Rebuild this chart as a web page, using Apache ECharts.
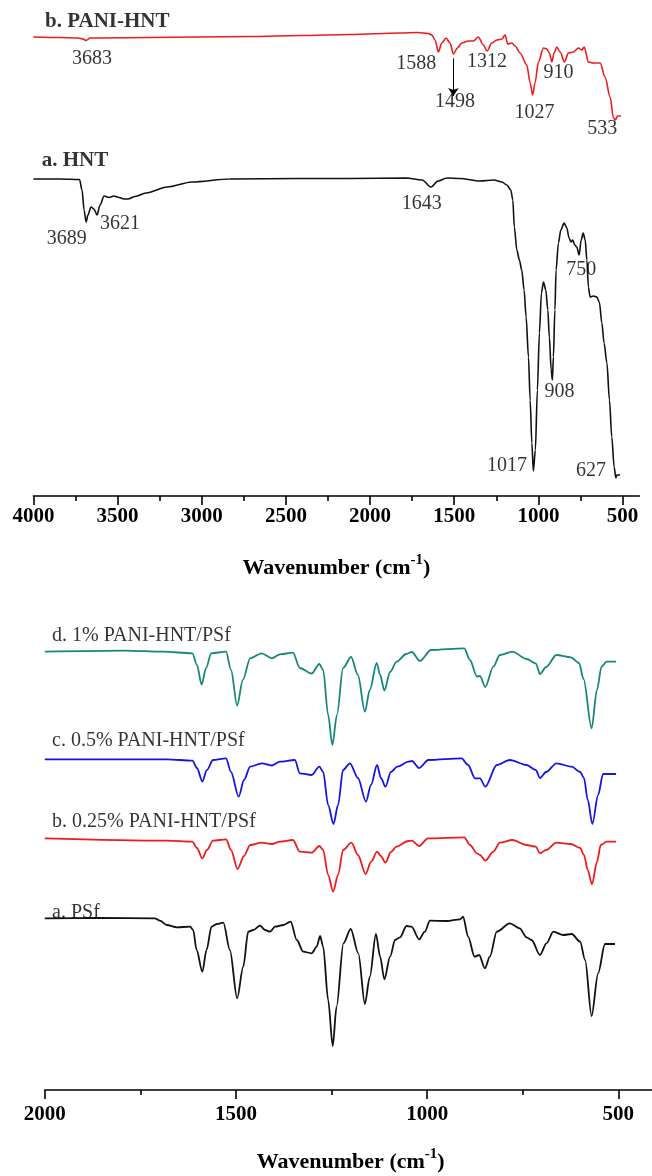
<!DOCTYPE html>
<html>
<head>
<meta charset="utf-8">
<script src="https://cdn.jsdelivr.net/npm/echarts@6/dist/echarts.min.js"></script>
<style>
  html, body { margin: 0; padding: 0; background: #fff; }
  #chart { width: 652px; height: 1176px; }
</style>
</head>
<body>
<div id="chart"></div>
<script>
/* FTIR spectra — top: HNT / PANI-HNT (4000-500), bottom: PSf membranes (2000-500)
   values are transmittance in arbitrary units, already offset per trace */

var SERIF = "'Liberation Serif', 'Times New Roman', serif";

// ---- top panel ------------------------------------------------------------
var paniHntSpectrum = [
  [4000,459],[3842,458.5],[3735,458],[3705,457],[3687,455.5],[3664,458],[3604,458],
  [3307,458.5],[3010,459],[2713,459.5],[2416,460.5],[2119,461.5],[1822,463],[1715,463.5],
  [1655,462.5],[1633,461],[1614,456],[1594,444],[1574,453],[1548,458],[1525,453],[1505,442],
  [1481,448],[1455,453],[1416,455],[1386,455],[1357,459],[1327,451],[1305,445],[1277,453],
  [1247,456],[1217,457],[1198,461],[1182,452],[1158,453],[1138,450],[1109,443],[1069,431],
  [1049,413],[1034,401],[1020,413],[1000,434],[970,448],[950,447],[935,443],[920,434],
  [907,443],[891,449],[871,444],[845,434],[822,443],[792,444],[762,448],[742,446],[728,449],
  [703,434],[673,433],[633,433],[604,419],[574,399],[554,378],[542,376],[531,380],[510,380]
];
var hntSpectrum = [
  [4000,317],[3842,317],[3726,316.5],[3711,306],[3699,286],[3687,274],[3676,281],[3658,289],
  [3640,287],[3622,281],[3604,291],[3580,300],[3551,298.5],[3521,300],[3491,298.5],[3462,297],
  [3438,297],[3396,299.5],[3331,303],[3206,309],[3058,314],[2832,317],[2416,317.5],
  [2119,317.5],[1786,318],[1691,316],[1638,309],[1596,315],[1543,318],[1466,317.5],[1347,315],
  [1264,316],[1216,314],[1188,311],[1164,306],[1152,296],[1143,269],[1128,246],[1113,236],
  [1099,226],[1085,206],[1073,179],[1059,139],[1049,96],[1039,53],[1030,25],[1018,46],
  [1006,106],[994,163],[982,203],[970,214],[956,206],[944,186],[935,159],[924,126],[917,116],
  [911,139],[902,186],[895,226],[881,253],[867,266],[847,273],[831,268],[818,258],[806,254],
  [796,256],[784,251],[772,249],[758,241],[746,256],[734,263],[722,256],[712,236],[703,209],
  [693,199],[673,200],[653,199],[638,194],[623,173],[610,153],[593,133],[578,96],[564,59],
  [550,29],[540,18],[534,21],[515,21]
];
// peak labels: [wavenumber, value, text]
var topPeakLabels = [
  [3652,437.7,'3683'],[1725,432,'1588'],[1495,394.3,'1498'],[1305,434.3,'1312'],
  [1023,383,'1027'],[881,423,'910'],[621,367.7,'533'],
  [3802,257.7,'3689'],[3485,272.7,'3621'],[1693,292.7,'1643'],[746,226,'750'],
  [874,104.5,'908'],[1186,30.5,'1017'],[687,25.5,'627']
];
var topTraceNames = [[3931,474,'b. PANI-HNT'],[3951,335,'a. HNT']];
var topArrow = [[1505,437.7],[1505,400]];   // 1498 pointer
var topMajorTicks = [500,1000,1500,2000,2500,3000,3500,4000];
var topMinorTicks = [750,1250,1750,2250,2750,3250,3750];

// ---- bottom panel ---------------------------------------------------------
var psfSpectrum = [
  [2000,171.7],[1856,172],[1712,171.7],[1699,169.3],[1681,165],[1655,162.7],[1620,163.3],
  [1612,160],[1603,140],[1588,118.3],[1577,140],[1564,163.3],[1550,166],[1533,167.3],
  [1516,140],[1497,91.7],[1481,123.3],[1468,158.3],[1455,160],[1437,164.3],[1424,160],
  [1411,158.3],[1398,163.3],[1376,165],[1357,168.3],[1341,150],[1324,138.3],[1302,136.7],
  [1289,143.3],[1280,154],[1272,143.3],[1259,90],[1247,44],[1237,83.3],[1219,146.7],
  [1200,161],[1180,136.7],[1163,86],[1150,113.3],[1134,156],[1123,133.3],[1112,110.7],
  [1097,133.3],[1084,150],[1071,152.7],[1054,164],[1041,163.3],[1021,150.7],[1006,158.3],
  [993,169.3],[949,169],[914,170.7],[906,173.3],[893,153.3],[876,133.3],[864,135],
  [849,121.7],[836,133.3],[818,158.3],[784,166.7],[758,161.7],[740,152.7],[727,150],
  [705,135],[688,146.7],[670,158.3],[644,155],[622,156],[600,148.3],[587,130],[570,74],
  [553,116.7],[535,146],[509,146]
];
var psf025Spectrum = [
  [2000,251.7],[1680,249.3],[1614,248.3],[1602,242],[1588,231.5],[1576,240],[1560,249.3],
  [1526,250.7],[1513,240],[1496,221],[1479,234],[1463,245],[1433,247.3],[1406,246],
  [1385,248.3],[1351,250],[1333,238.3],[1302,237.3],[1282,244],[1272,240],[1259,215],
  [1246,198.5],[1233,215],[1220,240],[1198,247.3],[1181,235],[1161,216],[1147,228],
  [1131,238.3],[1121,234],[1109,227.3],[1095,238],[1080,243.3],[1050,249],[1040,249.3],
  [1021,244],[998,251.7],[903,252.7],[888,245],[870,236.7],[862,235],[848,229.3],[827,238.3],
  [810,247.3],[777,250],[740,245],[716,243.3],[705,236.7],[689,240],[662,247.3],[624,246],
  [600,242],[590,235],[580,220],[569,205.7],[556,228],[546,245],[531,248.3],[506,248.3]
];
var psf05Spectrum = [
  [2000,330.7],[1680,330.7],[1614,329.3],[1602,322],[1588,308.5],[1576,320],[1560,330],
  [1526,331.7],[1513,318],[1493,293.3],[1479,310],[1463,323.3],[1433,326.7],[1406,324.5],
  [1385,328.3],[1346,330],[1333,316.7],[1302,315],[1282,323.3],[1272,318],[1259,285],
  [1245,266],[1233,285],[1220,320],[1202,326.7],[1181,312],[1160,288.3],[1147,305],
  [1131,325],[1121,312],[1109,303.3],[1095,318],[1078,323.3],[1049,328.3],[1040,329],
  [1021,322],[997,330],[910,331.7],[893,325],[875,311.7],[862,311.7],[848,303.3],[818,325],
  [784,330],[740,325],[716,320],[705,312],[689,318],[662,326.7],[622,323.3],[600,318],
  [590,312],[580,290],[568,266],[553,295],[540,316],[506,316]
];
var psf1Spectrum = [
  [2000,438.3],[1790,439.3],[1691,438.3],[1614,436.7],[1602,425],[1590,405.5],[1578,422],
  [1565,436.7],[1526,438.3],[1513,420],[1497,384.5],[1482,410],[1463,431.7],[1433,436.7],
  [1406,431.7],[1385,435.7],[1351,437.3],[1333,422],[1302,416.5],[1282,426],[1272,420],
  [1259,375],[1248,345],[1236,375],[1220,422],[1199,433],[1181,415],[1163,378.3],[1150,400],
  [1132,427],[1123,415],[1112,399.5],[1097,418],[1080,428.3],[1055,436],[1040,438],
  [1019,429],[990,440],[903,441.7],[888,430],[870,413.5],[862,414],[848,403],[827,423.3],
  [810,435],[777,438.3],[740,431],[716,426.7],[705,416],[689,423],[662,435],[624,432.7],
  [603,427],[591,411],[570,361.7],[556,400],[544,423.3],[531,428.3],[506,428.3]
];
var bottomTraceNames = [
  [1981,454.5,'d. 1% PANI-HNT/PSf'],[1981,349,'c. 0.5% PANI-HNT/PSf'],
  [1981,268,'b. 0.25% PANI-HNT/PSf'],[1981,177,'a. PSf']
];
var bottomMajorTicks = [500,1000,1500,2000];
var bottomMinorTicks = [750,1250,1750];

var COLORS = { red: '#ee1c1c', black: '#111111', teal: '#17877b', blue: '#1414e6' };

// ============================================================
//  helpers
// ============================================================
function toLabelData(list) {
  return list.map(function (d) { return { name: d[2], value: [d[0], d[1]] }; });
}

function majorAxis(gridIndex, min, max, ticks, labelMargin, nameGap) {
  return {
    type: 'value', gridIndex: gridIndex, position: 'bottom',
    min: min, max: max, inverse: true,
    axisLine: { show: true, onZero: false, lineStyle: { color: '#000', width: 1.6 } },
    axisTick: { show: true, customValues: ticks, length: 9, lineStyle: { color: '#000', width: 1.6 } },
    axisLabel: {
      show: true, customValues: ticks, margin: labelMargin,
      formatter: function (v) { return String(v); },
      fontFamily: SERIF, fontWeight: 'bold', fontSize: 21, color: '#000'
    },
    splitLine: { show: false },
    name: '{t|Wavenumber (cm}{s|-1}{t|)}',
    nameLocation: 'middle',
    nameGap: nameGap,
    nameMoveOverlap: false,
    nameTextStyle: {
      color: '#000',
      rich: {
        t: { fontFamily: SERIF, fontWeight: 'bold', fontSize: 22, lineHeight: 26, verticalAlign: 'bottom', color: '#000' },
        s: { fontFamily: SERIF, fontWeight: 'bold', fontSize: 15, lineHeight: 14, verticalAlign: 'top', color: '#000' }
      }
    }
  };
}

function minorAxis(gridIndex, min, max, ticks) {
  return {
    type: 'value', gridIndex: gridIndex, position: 'bottom',
    min: min, max: max, inverse: true,
    axisLine: { show: false, onZero: false },
    axisTick: { show: true, customValues: ticks, length: 5, lineStyle: { color: '#000', width: 1.6 } },
    axisLabel: { show: false },
    splitLine: { show: false }
  };
}

function spectrum(name, data, color, xIdx, yIdx, width) {
  return {
    name: name, type: 'line', xAxisIndex: xIdx, yAxisIndex: yIdx,
    data: data, showSymbol: false, symbol: 'none',
    smooth: 0.3, smoothMonotone: 'x',
    lineStyle: { color: color, width: width },
    silent: true
  };
}

function labelSeries(list, xIdx, yIdx, style) {
  return {
    type: 'scatter', xAxisIndex: xIdx, yAxisIndex: yIdx,
    data: toLabelData(list), symbolSize: 1,
    itemStyle: { color: 'rgba(0,0,0,0)' }, silent: true, z: 5,
    label: Object.assign({ show: true, position: 'inside', formatter: '{b}', color: '#000', fontFamily: SERIF }, style)
  };
}

// ============================================================
//  chart
// ============================================================
var chart = echarts.init(document.getElementById('chart'), null, { renderer: 'canvas' });

var paniSeries = spectrum('b. PANI-HNT', paniHntSpectrum, COLORS.red, 0, 0, 1.6);
paniSeries.markLine = {
  silent: true, symbol: ['none', 'arrow'], symbolSize: 8,
  label: { show: false },
  lineStyle: { color: '#000', width: 1, type: 'solid' },
  data: [[{ coord: topArrow[0] }, { coord: topArrow[1] }]]
};

chart.setOption({
  animation: false,
  backgroundColor: '#fff',
  grid: [
    { left: 33.4, right: 12.6, top: 0, bottom: 680, outerBoundsMode: 'none' },
    { left: 44.8, right: -4.6, top: 600, bottom: 86, outerBoundsMode: 'none' }
  ],
  xAxis: [
    majorAxis(0, 400, 4000, topMajorTicks, 10, 57),
    minorAxis(0, 400, 4000, topMinorTicks),
    majorAxis(1, 400, 2000, bottomMajorTicks, 14, 57),
    minorAxis(1, 400, 2000, bottomMinorTicks)
  ],
  yAxis: [
    { type: 'value', gridIndex: 0, min: 0, max: 496, show: false },
    { type: 'value', gridIndex: 1, min: 0, max: 490, show: false }
  ],
  series: [
    paniSeries,
    spectrum('a. HNT', hntSpectrum, COLORS.black, 0, 0, 1.6),
    labelSeries(topPeakLabels, 0, 0, { fontSize: 20 }),
    labelSeries(topTraceNames, 0, 0, { fontSize: 21, fontWeight: 'bold', align: 'left' }),
    spectrum('d. 1% PANI-HNT/PSf', psf1Spectrum, COLORS.teal, 2, 1, 1.8),
    spectrum('c. 0.5% PANI-HNT/PSf', psf05Spectrum, COLORS.blue, 2, 1, 1.8),
    spectrum('b. 0.25% PANI-HNT/PSf', psf025Spectrum, COLORS.red, 2, 1, 1.8),
    spectrum('a. PSf', psfSpectrum, COLORS.black, 2, 1, 1.8),
    labelSeries(bottomTraceNames, 2, 1, { fontSize: 20, align: 'left' })
  ]
});
</script>
</body>
</html>
